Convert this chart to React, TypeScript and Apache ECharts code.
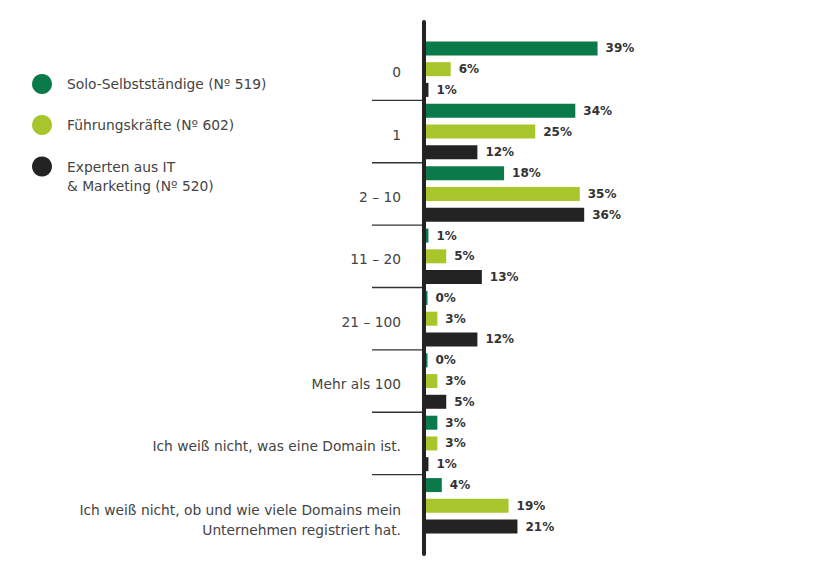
import React, { useEffect, useRef } from "react";
import * as echarts from "echarts";

const categories = [
  "0",
  "1",
  "2 – 10",
  "11 – 20",
  "21 – 100",
  "Mehr als 100",
  "Ich weiß nicht, was eine Domain ist.",
  "Ich weiß nicht, ob und wie viele Domains mein\nUnternehmen registriert hat.",
];
const seriesNames = [
  "Solo-Selbstständige (Nº 519)",
  "Führungskräfte (Nº 602)",
  "Experten aus IT\n& Marketing (Nº 520)",
];
const soloValues = [39, 34, 18, 1, 0, 0, 3, 4];
const fuehrungValues = [6, 25, 35, 5, 3, 3, 3, 19];
const expertenValues = [1, 12, 36, 13, 12, 5, 1, 21];
const colors = ["#0b7a4b", "#a8c52b", "#232323"];

const FONT = "DejaVu Sans";
const FS = 13.8;

export default function App() {
  const ref = useRef<HTMLDivElement>(null);
  useEffect(() => {
    if (!ref.current) return;
    const chart = echarts.init(ref.current, null, { renderer: "svg" });
    const values = [soloValues, fuehrungValues, expertenValues];
    const legendTops = [74, 115, 138];
    const txt = { fontFamily: FONT, fontSize: FS, color: "#444" };
    const option: any = {
      animation: false,
      backgroundColor: "#ffffff",
      textStyle: { fontFamily: FONT },
      legend: seriesNames.map((name, i) => ({
        data: [name],
        orient: "vertical",
        left: 32,
        top: legendTops[i],
        padding: 0,
        icon: "circle",
        itemWidth: 20,
        itemHeight: 20,
        selectedMode: false,
        formatter: (n: string) =>
          n
            .split("\n")
            .map((l) => `{a|${l}}`)
            .join("\n"),
        textStyle: {
          ...txt,
          lineHeight: 19,
          padding: i === 2 ? [19, 0, 0, 10] : [0, 0, 0, 10],
          rich: { a: { ...txt, lineHeight: 19 } },
        },
      })),
      grid: [
        { left: 424, top: 38, height: 499, width: 222.5 },
        { left: 424, top: 22, height: 532, width: 222.5 },
      ],
      xAxis: [
        { type: "value", gridIndex: 0, min: 0, max: 50, show: false },
        { type: "value", gridIndex: 1, min: 0, max: 50, show: false },
      ],
      yAxis: [
        {
          type: "category",
          gridIndex: 0,
          inverse: true,
          data: categories,
          axisLine: { show: false },
          axisTick: { show: false },
          axisLabel: {
            margin: 23,
            ...txt,
            lineHeight: 20,
            padding: [6, 0, 0, 0],
            formatter: (v: string) => {
              const lines = v.split("\n");
              const body = lines.map((l) => `{a|${l}}`).join("\n");
              return lines.length > 1 ? `{p| }\n${body}` : body;
            },
            rich: {
              a: { ...txt, lineHeight: 20 },
              p: { fontSize: 4, lineHeight: 22, height: 22 },
            },
          },
        },
        {
          type: "value",
          gridIndex: 1,
          min: 0,
          max: 1,
          z: 5,
          axisLine: { show: true, lineStyle: { color: "#232323", width: 4 } },
          axisTick: { show: false },
          axisLabel: { show: false },
          splitLine: { show: false },
        },
      ],
      series: [
        ...values.map((vals, i) => ({
          name: seriesNames[i],
          type: "bar",
          xAxisIndex: 0,
          yAxisIndex: 0,
          data: vals,
          barWidth: 14,
          barGap: "48%",
          barMinHeight: 3.5,
          itemStyle: { color: colors[i] },
          label: {
            show: true,
            position: "right",
            distance: 8,
            formatter: "{c}%",
            fontFamily: FONT,
            fontSize: 12,
            fontWeight: "bold",
            color: "#333",
          },
        })),
        {
          type: "custom",
          xAxisIndex: 0,
          yAxisIndex: 0,
          silent: true,
          z: 4,
          data: categories.slice(1).map((c) => [0, c]),
          encode: { x: 0, y: 1 },
          renderItem: (params: any, api: any) => {
            const idx = api.value(1);
            const p = api.coord([0, idx]);
            const band = api.size([0, 1])[1];
            const y = p[1] - band / 2;
            return {
              type: "line",
              shape: { x1: p[0] - 52, y1: y, x2: p[0], y2: y },
              style: { stroke: "#333", lineWidth: 1.3 },
            };
          },
        },
      ],
    };
    chart.setOption(option);
    return () => chart.dispose();
  }, []);
  return <div ref={ref} style={{ width: 840, height: 570, position: "absolute", left: 0, top: 0 }} />;
}
